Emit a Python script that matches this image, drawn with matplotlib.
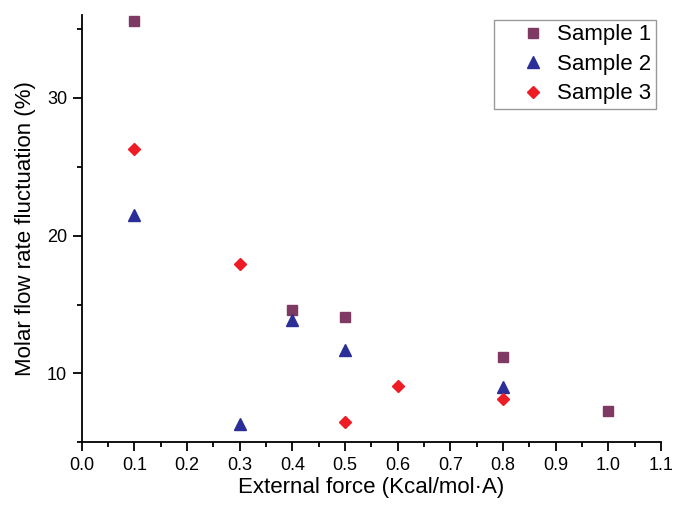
import numpy as np
import matplotlib.pyplot as plt
from matplotlib.ticker import MultipleLocator

plt.rcParams['font.family'] = ['Liberation Sans', 'DejaVu Sans']

# dados
x1 = [0.1, 0.4, 0.5, 0.8, 1.0]
y1 = [35.6, 14.6, 14.1, 11.2, 7.3]

x2 = [0.1, 0.3, 0.4, 0.5, 0.8]
y2 = [21.5, 6.35, 13.85, 11.7, 9.05]

x3 = [0.1, 0.3, 0.5, 0.6, 0.8]
y3 = [26.3, 17.95, 6.5, 9.1, 8.15]

labels = ['Sample 1', 'Sample 2', 'Sample 3']

fig = plt.figure(figsize = (6.73, 5.05), dpi = 100)
ax = fig.add_axes([0.1214, 0.124, 0.8606, 0.846])

ax.plot(x1, y1, ls = 'none', marker = 's', ms = 6.8, color = '#7E3A62', label = labels[0])
ax.plot(x2, y2, ls = 'none', marker = '^', ms = 9.2, color = '#2A2E96', label = labels[1])
ax.plot(x3, y3, ls = 'none', marker = 'D', ms = 6.0, color = '#EE1C25', label = labels[2])

ax.set_xlim(0, 1.1)
ax.set_ylim(5, 36)

# ticks maiores e menores
ax.xaxis.set_major_locator(MultipleLocator(0.1))
ax.xaxis.set_minor_locator(MultipleLocator(0.05))
ax.yaxis.set_major_locator(MultipleLocator(10))
ax.yaxis.set_minor_locator(MultipleLocator(5))
ax.xaxis.set_major_formatter(lambda v, p: f'{v:.1f}')

ax.spines['top'].set_visible(False)
ax.spines['right'].set_visible(False)
for s in ['left', 'bottom']:
    ax.spines[s].set_linewidth(1.3)

ax.tick_params(which = 'major', length = 6.5, width = 1.3, labelsize = 13, pad = 4)
ax.tick_params(which = 'minor', length = 3.5, width = 1.3)

ax.set_xlabel('External force (Kcal/mol·A)', fontsize = 16, labelpad = 2)
ax.set_ylabel('Molar flow rate fluctuation (%)', fontsize = 16, labelpad = 8)

leg = ax.legend(loc = 'upper right', fontsize = 16, frameon = True, fancybox = False,
                edgecolor = '#808080', handletextpad = -0.45, borderaxespad = 0.2,
                labelspacing = 0.38, borderpad = 0.22, handlelength = 3.1)
leg.get_frame().set_linewidth(1.0)

plt.savefig('out.png', dpi = 100)
